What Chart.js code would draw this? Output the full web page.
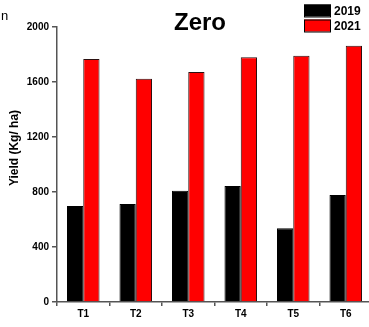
<!DOCTYPE html>
<html>
<head>
<meta charset="utf-8">
<script src="https://cdn.jsdelivr.net/npm/chart.js@4/dist/chart.umd.min.js"></script>
<style>
  html, body { margin: 0; padding: 0; background: #ffffff; overflow: hidden; }
  #wrap { position: relative; width: 372px; height: 327px; }
</style>
</head>
<body>
<div id="wrap"><canvas id="c" width="372" height="327"></canvas></div>
<script>
// Treatments and grain yield (Kg/ha) for the zero-tillage plots
const treatments = ['T1', 'T2', 'T3', 'T4', 'T5', 'T6'];
const yield2019 = [698, 713, 809, 844, 536, 778];
const yield2021 = [1767, 1624, 1673, 1780, 1791, 1864];
const yTicks = [0, 400, 800, 1200, 1600, 2000];
const seriesNames = ['2019', '2021'];
const panelTitle = 'Zero';
const yAxisTitle = 'Yield (Kg/ ha)';

const FONT = '"Liberation Sans", Arial, sans-serif';
const AXIS = '#555555';

// Panel title, legend, rotated axis title and the corner label
const decorations = {
  id: 'decorations',
  afterDraw(chart) {
    const ctx = chart.ctx;
    ctx.save();
    ctx.fillStyle = '#000';
    ctx.textBaseline = 'middle';

    ctx.font = '13px ' + FONT;
    ctx.textAlign = 'left';
    ctx.fillText('n', 1, 16);

    ctx.font = 'bold 24px ' + FONT;
    ctx.textAlign = 'center';
    ctx.fillText(panelTitle, 200, 23);

    chart.data.datasets.forEach((ds, i) => {
      const y = 4.5 + i * 15;
      ctx.fillStyle = ds.backgroundColor;
      ctx.fillRect(304, y, 27, 12);
      ctx.strokeStyle = '#000';
      ctx.lineWidth = 1;
      ctx.strokeRect(304.5, y + 0.5, 26, 12);
      ctx.fillStyle = '#000';
      ctx.font = 'bold 12px ' + FONT;
      ctx.textAlign = 'left';
      ctx.fillText(ds.label, 334, y + 7);
    });

    ctx.translate(15, 148);
    ctx.rotate(-Math.PI / 2);
    ctx.font = 'bold 12px ' + FONT;
    ctx.textAlign = 'center';
    ctx.fillText(yAxisTitle, 0, 0);
    ctx.restore();
  }
};

new Chart(document.getElementById('c'), {
  type: 'bar',
  data: {
    labels: treatments,
    datasets: [
      { label: seriesNames[0], data: yield2019, backgroundColor: '#000000', borderColor: '#000000', borderWidth: 1 },
      { label: seriesNames[1], data: yield2021, backgroundColor: '#ff0000', borderColor: '#2a1010', borderWidth: 1 }
    ]
  },
  options: {
    responsive: false,
    animation: false,
    layout: { padding: { top: 27, left: 0, right: 0, bottom: 0 } },
    datasets: { bar: { barPercentage: 1.0, categoryPercentage: 0.62 } },
    plugins: {
      legend: { display: false },
      title: { display: false },
      tooltip: { enabled: false }
    },
    scales: {
      x: {
        grid: { display: true, drawOnChartArea: false, drawTicks: true, tickLength: 4, color: AXIS, lineWidth: 1.5 },
        border: { display: true, color: AXIS, width: 1.5 },
        ticks: { color: '#000', font: { family: FONT, size: 10, weight: 'bold' }, padding: 2 },
        afterFit(scale) { scale.height = 25; }
      },
      y: {
        min: 0,
        max: 2000,
        afterBuildTicks(scale) { scale.ticks = yTicks.map(v => ({ value: v })); },
        grid: { display: true, drawOnChartArea: false, drawTicks: true, tickLength: 5, color: AXIS, lineWidth: 1.5 },
        border: { display: true, color: AXIS, width: 1.5 },
        ticks: { color: '#000', font: { family: FONT, size: 10, weight: 'bold' }, padding: 3, callback: v => String(v) },
        afterFit(scale) { scale.width = 57; }
      }
    }
  },
  plugins: [decorations]
});
</script>
</body>
</html>
